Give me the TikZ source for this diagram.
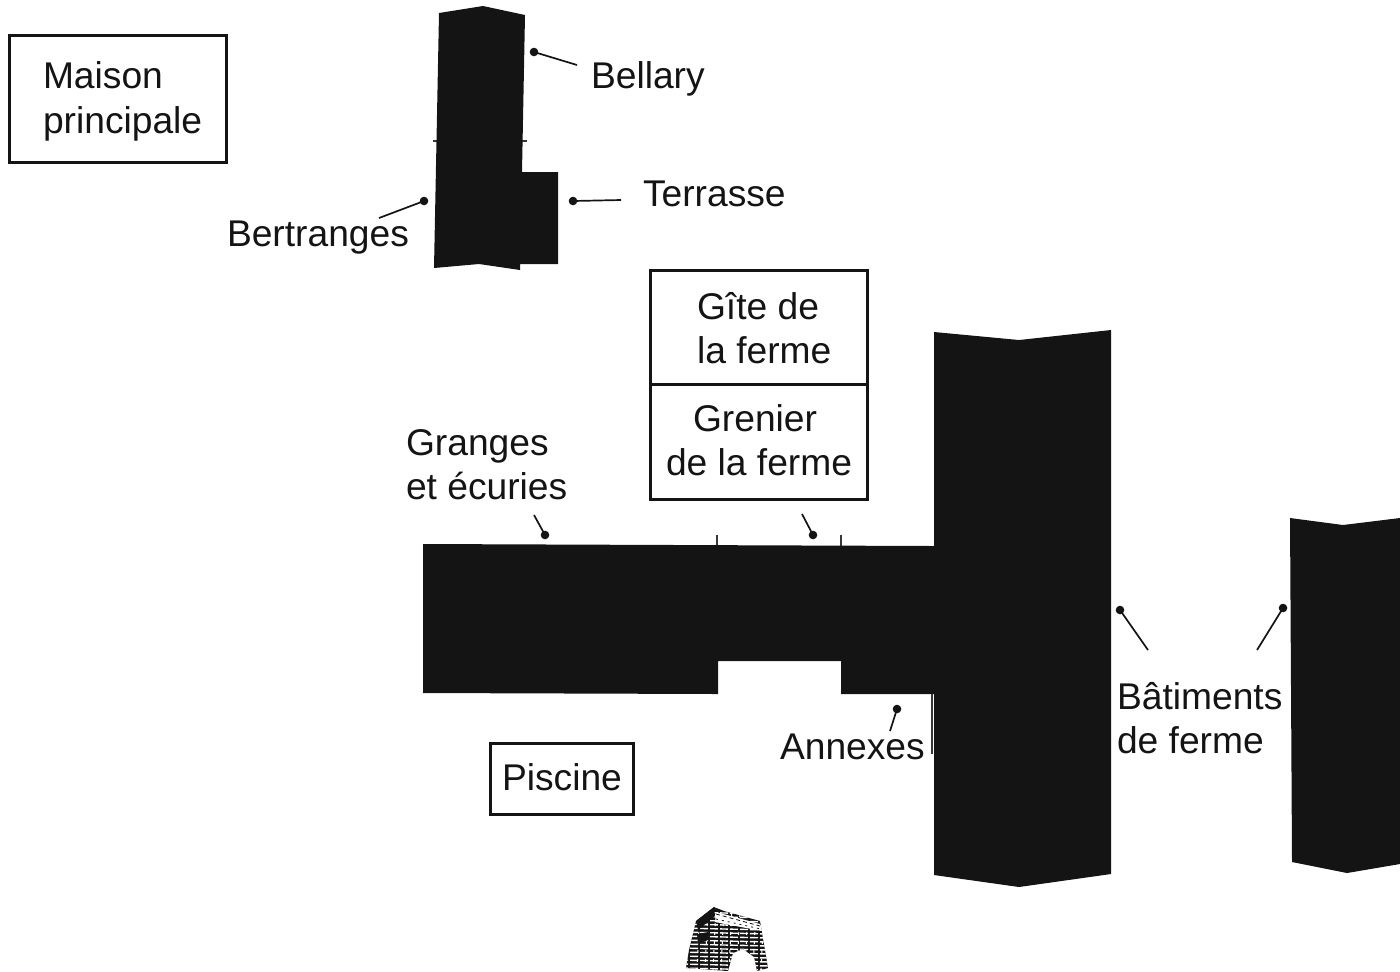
\documentclass[tikz,border=0pt]{standalone}
\usepackage{fontspec}
\setmainfont{Liberation Sans}
\definecolor{plan}{HTML}{141414}
\tikzset{
	plan map/.style={x=.5pt, y=-.5pt, every node/.style={inner sep=0pt, outer sep=0pt}},
	building/.style={fill=plan, draw=none},
	tick/.style={draw=plan!85, line width=.75pt},
	frame/.style={draw=plan, line width=1.5pt},
	tag/.style={anchor=base west, align=left, text=plan,
		font=\fontsize{18.6}{22}\selectfont},
	dot/.style={circle, fill=plan, minimum size=4.3pt},
	leader/.style={draw=plan, line width=.85pt}
}

\begin{document}
\begin{tikzpicture}[plan map]
    \useasboundingbox (0,0) rectangle (1400,971);
    % house
    \draw[tick] (433,141) -- (527,141);
    \fill[building] (439,13) -- (483,6) -- (525,15) -- (522,172) -- (558,172) -- (558,264)
      -- (520,264) -- (520,270) -- (479,264) -- (434,268) -- cycle;
    % farm
    \draw[tick] (717,535) -- (717,546) (841,535) -- (841,546) (932,694) -- (932,754);
    \fill[building] (423,544) -- (934,546) -- (934,332) -- (1019,340) -- (1111,330) -- (1111,874)
      -- (1019,887) -- (934,875) -- (934,694) -- (841,694) -- (841,661) -- (718,661) -- (718,694)
      -- (423,693) -- cycle;
    \fill[building] (1290,518) -- (1343,525) -- (1400,518) -- (1400,864) -- (1347,873) -- (1292,862) -- cycle;
    % boxes
    \path[frame] (9,35) rectangle (226.5,162);
    \path[frame] (650,270) rectangle (867,384);
    \path[frame] (650,384) rectangle (867,499);
    \path[frame] (490,743) rectangle (633.5,814);
    % labels
    \node[tag] (maison) at (43,88.5) {Maison};
    \node[tag] (principale) at (43,133.5) {principale};
    \node[tag] (bellary) at (591,88) {Bellary};
    \node[tag] (terrasse) at (643,206) {Terrasse};
    \node[tag] (bertranges) at (227,246) {Bertranges};
    \node[tag] (gite) at (697,319) {Gîte de};
    \node[tag] (gite2) at (697,363.5) {la ferme};
    \node[tag] (grenier) at (693,431) {Grenier};
    \node[tag] (grenier2) at (666,475.5) {de la ferme};
    \node[tag] (granges) at (406,455.5) {Granges};
    \node[tag] (granges2) at (406,499.5) {et écuries};
    \node[tag] (piscine) at (502,790.5) {Piscine};
    \node[tag] (annexes) at (780,759) {Annexes};
    \node[tag] (batiments) at (1117,709.5) {Bâtiments};
    \node[tag] (batiments2) at (1117,753.5) {de ferme};
    % leaders
    \foreach \nom/\x/\y/\u/\v in {pBellary/534/52/577/65, pTerrasse/573/201/621/200,
      pBertranges/424/201/379/218, pGranges/545/535/534/515, pGrenier/813/535/802/514,
      pAnnexes/897/709/890/731, pBatA/1120/610/1148/650, pBatB/1283/608/1257/650}{
      \node[dot] (\nom) at (\x,\y) {};
      \coordinate (\nom end) at (\u,\v);
      \draw[leader] (\nom.center) -- (\nom end);
    }
    % arch
    \begin{scope}
      \clip (696,921) -- (714,907) -- (724,911) -- (760,921) -- (768,968) -- (757,971) -- (754,957)
        -- (743,949) -- (733,953) -- (728,971) -- (686,968) -- (689,950) -- cycle;
      \fill[plan] (680,900) rectangle (770,971);
      \foreach \y in {912,916,...,968}
        \draw[white, line width=.7pt, dash pattern=on 4pt off 1pt] (680,\y) -- (770,\y+2);
      \foreach \x in {700,708,...,764}
        \draw[white, line width=.5pt, dash pattern=on 1.5pt off 3pt] (\x,905) -- (\x-3,971);
      \fill[white] (716,912) -- (760,924) -- (762,931) -- (715,922) -- cycle;
      \draw[plan, line width=.4pt, dash pattern=on 2pt off 1.5pt] (716,914) -- (760,926);
      \draw[plan, line width=.4pt, dash pattern=on 1pt off 2pt] (716,919) -- (761,929);
      \fill[plan] (696,921) -- (714,907) -- (715,916) -- (698,930) -- cycle;
      \fill[plan] (697,934) -- (708,932) -- (708,940) -- (698,944) -- cycle;
    \end{scope}
\end{tikzpicture}
\end{document}
